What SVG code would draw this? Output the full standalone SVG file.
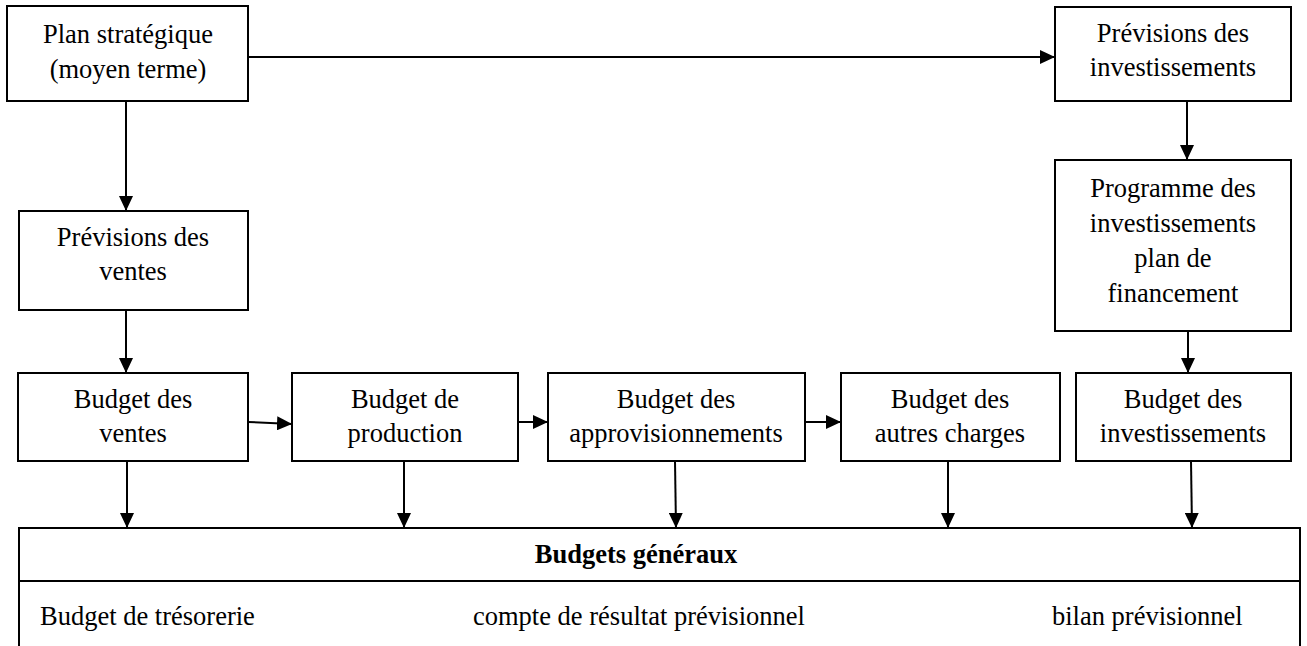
<svg xmlns="http://www.w3.org/2000/svg" width="1307" height="646" viewBox="0 0 1307 646">
  <style>
    .box { fill: #ffffff; stroke: #000000; stroke-width: 2; }
    .lbl { font-family: "Liberation Serif", "Times New Roman", serif; font-size: 26.5px; fill: #000000; }
    .mid { text-anchor: middle; }
    .bold { font-weight: bold; }
    .conn { stroke: #000000; stroke-width: 2; fill: none; marker-end: url(#arrow); }
  </style>
  <defs>
    <marker id="arrow" markerUnits="userSpaceOnUse" markerWidth="15" markerHeight="14" refX="15" refY="7" orient="auto">
      <path d="M0,0 L15,7 L0,14 Z" fill="#000000"/>
    </marker>
  </defs>
  <rect width="1307" height="646" fill="#ffffff"/>

  <g id="plan-strategique">
    <rect class="box" x="7" y="6" width="241" height="95"/>
    <text class="lbl mid" x="128" y="43">Plan stratégique</text>
    <text class="lbl mid" x="128" y="78">(moyen terme)</text>
  </g>

  <g id="previsions-investissements">
    <rect class="box" x="1055" y="7" width="236" height="94"/>
    <text class="lbl mid" x="1173" y="42">Prévisions des</text>
    <text class="lbl mid" x="1173" y="76">investissements</text>
  </g>

  <g id="programme-investissements">
    <rect class="box" x="1055" y="160" width="236" height="171"/>
    <text class="lbl mid" x="1173" y="197">Programme des</text>
    <text class="lbl mid" x="1173" y="232">investissements</text>
    <text class="lbl mid" x="1173" y="267">plan de</text>
    <text class="lbl mid" x="1173" y="302">financement</text>
  </g>

  <g id="previsions-ventes">
    <rect class="box" x="19" y="211" width="229" height="99"/>
    <text class="lbl mid" x="133" y="246">Prévisions des</text>
    <text class="lbl mid" x="133" y="280">ventes</text>
  </g>

  <g id="budget-ventes">
    <rect class="box" x="18" y="373" width="230" height="88"/>
    <text class="lbl mid" x="133" y="408">Budget des</text>
    <text class="lbl mid" x="133" y="442">ventes</text>
  </g>

  <g id="budget-production">
    <rect class="box" x="292" y="373" width="226" height="88"/>
    <text class="lbl mid" x="405" y="408">Budget de</text>
    <text class="lbl mid" x="405" y="442">production</text>
  </g>

  <g id="budget-approvisionnements">
    <rect class="box" x="548" y="373" width="257" height="88"/>
    <text class="lbl mid" x="676" y="408">Budget des</text>
    <text class="lbl mid" x="676" y="442">approvisionnements</text>
  </g>

  <g id="budget-autres-charges">
    <rect class="box" x="841" y="373" width="219" height="88"/>
    <text class="lbl mid" x="950" y="408">Budget des</text>
    <text class="lbl mid" x="950" y="442">autres charges</text>
  </g>

  <g id="budget-investissements">
    <rect class="box" x="1076" y="373" width="215" height="88"/>
    <text class="lbl mid" x="1183" y="408">Budget des</text>
    <text class="lbl mid" x="1183" y="442">investissements</text>
  </g>

  <g id="budgets-generaux">
    <rect class="box" x="19" y="528" width="1281" height="140"/>
    <line x1="19" y1="581" x2="1300" y2="581" stroke="#000000" stroke-width="2"/>
    <text class="lbl mid bold" x="636" y="563">Budgets généraux</text>
    <text class="lbl" x="40" y="625">Budget de trésorerie</text>
    <text class="lbl" x="473" y="625">compte de résultat prévisionnel</text>
    <text class="lbl" x="1052" y="625">bilan prévisionnel</text>
  </g>

  <g id="connectors">
    <line class="conn" x1="248" y1="57" x2="1055" y2="57"/>
    <line class="conn" x1="126" y1="101" x2="126" y2="211"/>
    <line class="conn" x1="126" y1="310" x2="126" y2="373"/>
    <line class="conn" x1="1187" y1="101" x2="1187" y2="160"/>
    <line class="conn" x1="1188" y1="331" x2="1188" y2="373"/>
    <line class="conn" x1="248" y1="422" x2="292" y2="424"/>
    <line class="conn" x1="518" y1="422" x2="548" y2="422"/>
    <line class="conn" x1="805" y1="422" x2="841" y2="422"/>
    <line class="conn" x1="127" y1="461" x2="127" y2="528"/>
    <line class="conn" x1="404" y1="461" x2="404" y2="528"/>
    <line class="conn" x1="675" y1="461" x2="676" y2="528"/>
    <line class="conn" x1="948" y1="461" x2="948" y2="528"/>
    <line class="conn" x1="1191" y1="461" x2="1192" y2="528"/>
  </g>
</svg>
